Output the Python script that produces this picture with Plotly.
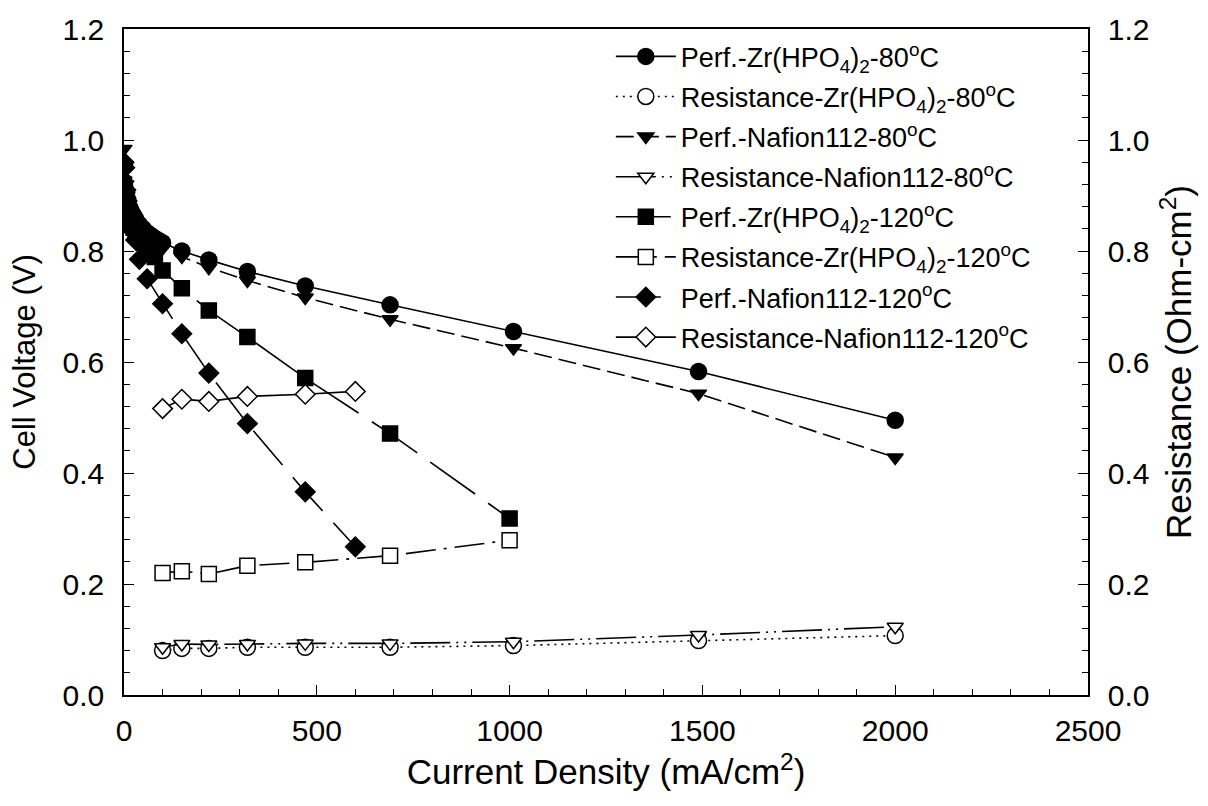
import plotly.graph_objects as go

# Polarization curves (cell voltage, left axis)
cur_zr80 = [0, 2, 5, 8, 10, 15, 20, 25, 30, 40, 50, 60, 70, 80, 90, 100,
            150, 220, 320, 470, 690, 1010, 1490, 2000]
v_zr80 = [0.925, 0.915, 0.905, 0.896, 0.89, 0.878, 0.87, 0.864, 0.858, 0.848, 0.84, 0.833,
          0.828, 0.823, 0.819, 0.815, 0.800, 0.784, 0.763, 0.737, 0.703, 0.655, 0.583, 0.495]

cur_naf80 = [0, 2, 5, 8, 10, 15, 20, 25, 30, 40, 50, 60, 70, 80, 90, 100,
             150, 220, 320, 470, 690, 1010, 1490, 2000]
v_naf80 = [0.984, 0.95, 0.92, 0.90, 0.89, 0.875, 0.865, 0.857, 0.85, 0.84, 0.832, 0.825,
           0.819, 0.813, 0.809, 0.805, 0.790, 0.770, 0.747, 0.716, 0.677, 0.625, 0.543, 0.428]

cur_zr120 = [0, 2, 5, 8, 10, 15, 20, 25, 30, 40, 50, 60, 70, 80, 100,
             150, 220, 320, 470, 690, 1000]
v_zr120 = [0.92, 0.905, 0.89, 0.878, 0.87, 0.858, 0.85, 0.842, 0.835, 0.825, 0.815, 0.805,
           0.797, 0.789, 0.765, 0.733, 0.693, 0.645, 0.571, 0.471, 0.318]

cur_naf120 = [0, 2, 5, 8, 10, 15, 20, 25, 30, 40, 60, 100, 150, 220, 320, 470, 600]
v_naf120 = [0.96, 0.95, 0.91, 0.89, 0.88, 0.865, 0.85, 0.835, 0.82, 0.785, 0.75, 0.705,
            0.651, 0.580, 0.489, 0.366, 0.267]

# High-frequency resistance (right axis)
cur_r80 = [100, 150, 220, 320, 470, 690, 1010, 1490, 2000]
r_zr80 = [0.080, 0.084, 0.084, 0.086, 0.086, 0.086, 0.089, 0.098, 0.107]
r_naf80 = [0.086, 0.092, 0.091, 0.092, 0.093, 0.093, 0.096, 0.108, 0.123]

cur_rzr120 = [100, 150, 220, 320, 470, 690, 1000]
r_zr120 = [0.220, 0.223, 0.218, 0.233, 0.239, 0.251, 0.279]

cur_rnaf120 = [100, 150, 220, 320, 470, 600]
r_naf120 = [0.516, 0.533, 0.529, 0.538, 0.542, 0.547]

FONT = "Arial, Liberation Sans, sans-serif"
BLACK = "black"
TICK_SIZE = 30

fig = go.Figure()


def add(x, y, name, symbol, size, filled, dash, yaxis="y"):
    fig.add_trace(go.Scatter(
        x=x, y=y, name=name, yaxis=yaxis, mode="lines+markers",
        legendgroup=name,
        line=dict(color=BLACK, width=1.6, dash=dash),
        marker=dict(symbol=symbol, size=size,
                    color=BLACK if filled else "white",
                    line=dict(color=BLACK, width=1.5)),
    ))


add(cur_zr80, v_zr80, "Perf.-Zr(HPO<sub>4</sub>)<sub>2</sub>-80<sup>o</sup>C",
    "circle", 16, True, "solid")
add(cur_r80, r_zr80, "Resistance-Zr(HPO<sub>4</sub>)<sub>2</sub>-80<sup>o</sup>C",
    "circle", 16, False, "2px,5px", "y2")
add(cur_naf80, v_naf80, "Perf.-Nafion112-80<sup>o</sup>C",
    "triangle-down", 14, True, "18px,7px")
add(cur_r80, r_naf80, "Resistance-Nafion112-80<sup>o</sup>C",
    "triangle-down", 14, False, "40px,6px,2px,6px,2px,6px", "y2")
add(cur_zr120, v_zr120, "Perf.-Zr(HPO<sub>4</sub>)<sub>2</sub>-120<sup>o</sup>C",
    "square", 15, True, "55px,16px")
add(cur_rzr120, r_zr120, "Resistance-Zr(HPO<sub>4</sub>)<sub>2</sub>-120<sup>o</sup>C",
    "square", 15, False, "30px,8px,3px,8px", "y2")
add(cur_naf120, v_naf120, "Perf.-Nafion112-120<sup>o</sup>C",
    "diamond", 15, True, "45px,16px")
add(cur_rnaf120, r_naf120, "Resistance-Nafion112-120<sup>o</sup>C",
    "diamond", 15, False, "solid", "y2")

axis_common = dict(
    showline=True, linecolor=BLACK, linewidth=1.5,
    ticks="inside", ticklen=10, tickwidth=1.2, tickcolor=BLACK,
    showgrid=False, zeroline=False,
    tickfont=dict(family=FONT, size=TICK_SIZE, color=BLACK),
)

fig.update_layout(
    width=1208, height=806,
    margin=dict(l=124, r=120, t=22, b=111),
    paper_bgcolor="white", plot_bgcolor="white",
    font=dict(family=FONT, color=BLACK),
    xaxis=dict(
        range=[0, 2500], dtick=500, tick0=0, mirror=True,
        ticklabelstandoff=8,
        title=dict(text="Current Density (mA/cm<sup>2</sup>)",
                   font=dict(family=FONT, size=35, color=BLACK), standoff=14),
        minor=dict(ticks="inside", ticklen=6, dtick=100, tickcolor=BLACK, tickwidth=1.2),
        **axis_common,
    ),
    yaxis=dict(
        range=[0, 1.2], dtick=0.2, tick0=0, tickformat=".1f",
        ticklabelstandoff=12,
        title=dict(text="Cell Voltage (V)",
                   font=dict(family=FONT, size=31, color=BLACK), standoff=18),
        minor=dict(ticks="inside", ticklen=6, dtick=0.04, tickcolor=BLACK, tickwidth=1.2),
        **axis_common,
    ),
    yaxis2=dict(
        range=[0, 1.2], dtick=0.2, tick0=0, tickformat=".1f",
        overlaying="y", side="right",
        ticklabelstandoff=12,
        title=dict(text="Resistance (Ohm-cm<sup>2</sup>)",
                   font=dict(family=FONT, size=35, color=BLACK), standoff=18),
        minor=dict(ticks="inside", ticklen=6, dtick=0.04, tickcolor=BLACK, tickwidth=1.2),
        **axis_common,
    ),
    legend=dict(
        x=0.505, y=0.995, xanchor="left", yanchor="top",
        bgcolor="rgba(0,0,0,0)", borderwidth=0,
        font=dict(family=FONT, size=27, color=BLACK),
        itemwidth=60, tracegroupgap=2,
    ),
    showlegend=True,
)

fig.write_html("out.html")
